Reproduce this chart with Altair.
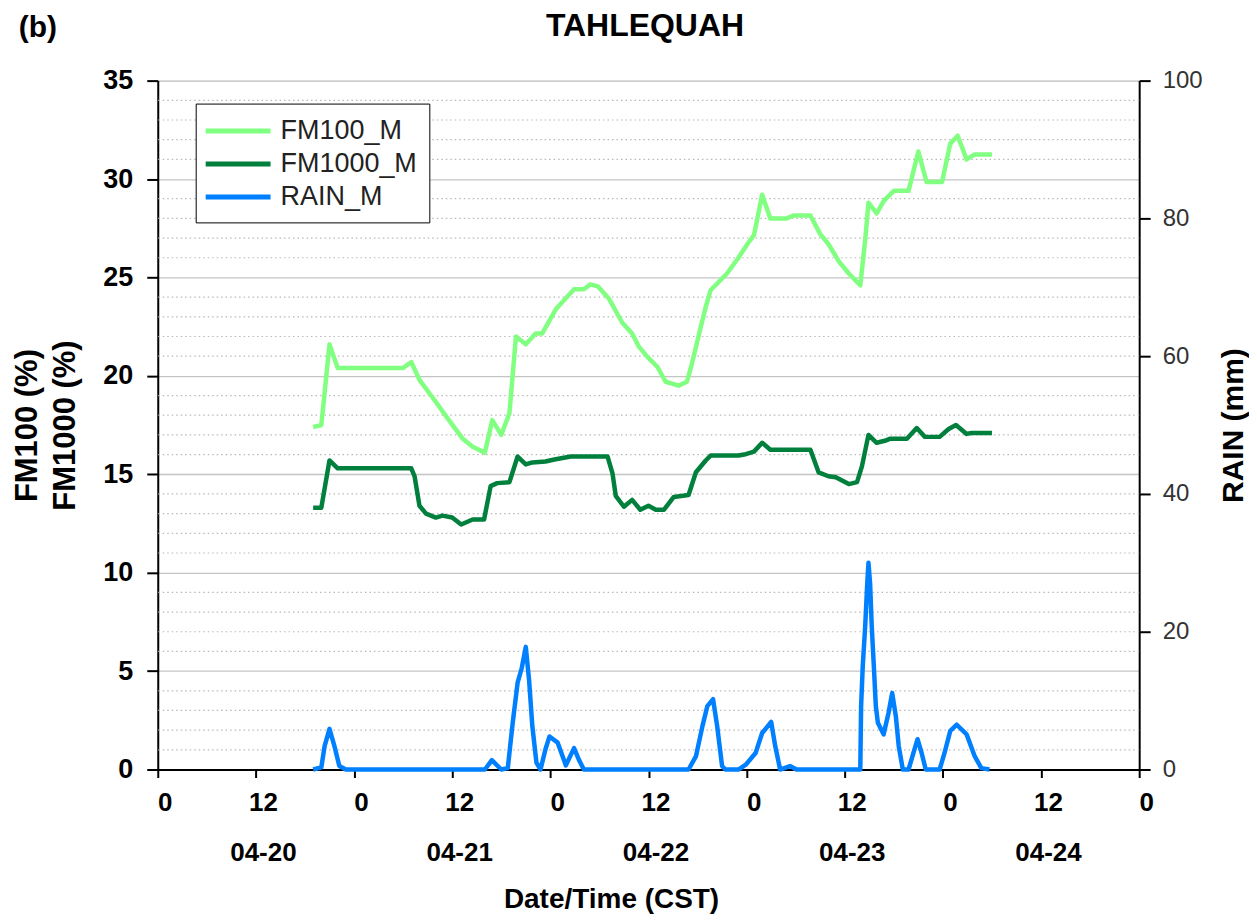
import altair as alt
import pandas as pd

# ---- data (hours since 04-20 00:00 CST) ----
fm100_hours = [19, 20, 21, 22, 30, 31, 32, 33.6, 35.6, 37.3, 38.5, 40, 40.9, 42, 43, 43.8,
               45, 46.2, 47, 48.7, 50.9, 52.1, 52.9, 53.8, 55.2, 56.8, 58, 58.8, 59.9, 61.1,
               62.1, 63.7, 64.7, 65.3, 66.2, 67, 67.6, 69.6, 71, 72.1, 72.9, 73.9, 74.9, 76.9,
               77.8, 79.8, 81, 82, 83.3, 84.5, 85.9, 86.5, 86.9, 87.9, 88.8, 90, 91.8, 93,
               94, 95.9, 96.9, 97.8, 98.9, 99.9, 102]
fm100_vals = [17.4, 17.5, 21.6, 20.4, 20.4, 20.7, 19.8, 18.9, 17.75, 16.8, 16.4, 16.1, 17.75, 17.0, 18.1, 22.0,
              21.6, 22.15, 22.15, 23.4, 24.4, 24.4, 24.65, 24.55, 23.9, 22.7, 22.15, 21.5, 20.95, 20.45,
              19.7, 19.5, 19.7, 20.6, 22.15, 23.5, 24.35, 25.2, 26.0, 26.7, 27.15, 29.2, 28.0, 28.0,
              28.15, 28.15, 27.2, 26.7, 25.8, 25.2, 24.6, 26.9, 28.8, 28.25, 28.9, 29.4, 29.4, 31.4,
              29.85, 29.85, 31.8, 32.2, 31.0, 31.25, 31.25]

fm1000_hours = [19, 20, 21, 22, 31, 31.4, 32, 32.8, 34, 34.8, 36, 37.1, 38.5, 39.9, 40.7, 41.5,
                43, 44, 45, 45.8, 47.4, 48.5, 50.5, 55, 55.6, 56, 57, 58, 59, 60, 60.9, 61.9,
                63.1, 64.9, 65.8, 67, 67.6, 71, 71.7, 72.9, 73.9, 74.9, 79.8, 80.8, 82, 82.9,
                84.5, 85.5, 86.1, 86.9, 87.9, 88.9, 89.5, 91.6, 92.8, 93.8, 95.6, 96.7, 97.6,
                98.9, 99.5, 102]
fm1000_vals = [13.3, 13.3, 15.7, 15.3, 15.3, 14.9, 13.4, 13.0, 12.8, 12.9, 12.8, 12.45, 12.7, 12.7, 14.4, 14.55,
               14.6, 15.9, 15.5, 15.6, 15.65, 15.75, 15.9, 15.9, 15.05, 13.9, 13.35, 13.7, 13.2, 13.4, 13.2, 13.2,
               13.85, 13.95, 15.1, 15.7, 15.95, 15.95, 16.0, 16.15, 16.6, 16.25, 16.25, 15.1, 14.9, 14.85,
               14.5, 14.6, 15.4, 17.0, 16.6, 16.7, 16.8, 16.8, 17.35, 16.9, 16.9, 17.3, 17.5,
               17.05, 17.1, 17.1]

rain_hours = [19, 20, 20.4, 21, 21.6, 22.2, 23, 40, 40.85, 42, 42.8, 43.4, 44, 44.5, 45, 45.4,
              45.8, 46.3, 46.8, 47.4, 47.9, 48.9, 49.9, 50.9, 51.5, 52.1, 64.9, 65.8, 66.6, 67.2,
              67.9, 68.4, 69, 69.4, 71, 71.9, 73.1, 73.9, 75, 75.5, 76.1, 77.3, 78.1, 85.9,
              86, 86.2, 86.5, 86.75, 86.9, 87.1, 87.3, 87.6, 87.8, 88.05, 88.75, 89.35, 89.8,
              90.25, 90.6, 91.1, 91.8, 92.4, 92.9, 93.4, 93.9, 95.6, 96.2, 96.9, 97.7, 98.9,
              99.9, 100.7, 101.7]
rain_vals = [0, 0.3, 3.4, 5.9, 3.4, 0.5, 0, 0, 1.35, 0, 0.2, 6.8, 12.6, 14.7, 17.8, 13.0,
             6.3, 1.0, 0, 2.9, 4.8, 3.9, 0.6, 3.1, 1.4, 0, 0, 1.9, 6.3, 9.2,
             10.2, 6.3, 0.5, 0, 0, 0.7, 2.4, 5.3, 6.9, 3.4, 0, 0.5, 0, 0,
             9.2, 15.0, 20.8, 27.0, 30.0, 27.0, 20.8, 14.0, 9.2, 6.8, 5.1, 8.2, 11.1,
             7.7, 3.4, 0, 0, 2.4, 4.4, 2.4, 0, 0, 2.4, 5.6, 6.5, 5.1,
             1.9, 0.2, 0]

series_names = ["FM100_M", "FM1000_M", "RAIN_M"]
series_colors = ["#80FF80", "#00803C", "#0080FF"]

x_ticks = list(range(0, 121, 12))
left_ticks = list(range(0, 36, 5))
minor_ticks = [v for v in range(1, 35) if v % 5 != 0]
right_ticks = list(range(0, 101, 20))

chart_title = "TAHLEQUAH"
panel_label = "(b)"

FONT = "Liberation Sans"

fm_df = pd.concat([
    pd.DataFrame({"hour": fm100_hours, "value": fm100_vals, "series": "FM100_M"}),
    pd.DataFrame({"hour": fm1000_hours, "value": fm1000_vals, "series": "FM1000_M"}),
])
rain_df = pd.DataFrame({"hour": rain_hours, "mm": rain_vals, "series": "RAIN_M"})
minor_df = pd.DataFrame({"value": minor_ticks})

color = alt.Color(
    "series:N",
    scale=alt.Scale(domain=series_names, range=series_colors),
    legend=alt.Legend(
        title=None, orient="none", legendX=38, legendY=23,
        strokeColor="black", fillColor="white", padding=12,
        symbolType="M-2.5,0H2.5", symbolSize=676, symbolStrokeWidth=5,
        symbolOffset=15, labelOffset=27,
        labelFont=FONT, labelFontSize=27, labelColor="#222222", rowPadding=4,
    ),
)

x_enc = alt.X(
    "hour:Q",
    scale=alt.Scale(domain=[0, 120], nice=False, zero=False),
    axis=alt.Axis(
        values=x_ticks,
        labelExpr="datum.value % 24 == 0 ? '0' : ['12', '04-' + (20 + floor(datum.value / 24))]",
        grid=False, domainColor="black", domainWidth=2, tickColor="black", tickWidth=2, tickSize=8,
        labelFont=FONT, labelFontSize=26, labelFontWeight="bold", labelColor="black",
        labelPadding=12, labelLineHeight=50, labelOffset=7, labelOverlap=False, labelFlush=False,
        title="Date/Time (CST)", titleFont=FONT, titleFontSize=28, titleFontWeight="bold",
        titleColor="black", titleX=454, titleY=130, titleBaseline="middle", titleAlign="center",
    ),
)

left_scale = alt.Scale(domain=[0, 35], nice=False, zero=True)
left_axis = alt.Axis(
    values=left_ticks, grid=True, gridColor="#c4c4c4", gridWidth=1.3,
    domainColor="black", domainWidth=2, tickColor="black", tickWidth=2, tickSize=11,
    labelFont=FONT, labelFontSize=27, labelFontWeight="bold", labelColor="black", labelPadding=14,
    title=["FM100 (%)", "FM1000 (%)"], titleFont=FONT, titleFontSize=31, titleFontWeight="bold",
    titleColor="black", titleAngle=270, titleX=-130, titleY=345, titleAlign="center",
    titleBaseline="middle", titleLineHeight=38,
)

minor = alt.Chart(minor_df).mark_rule(color="#b8b8b8", strokeDash=[1.5, 3], strokeWidth=1.2).encode(
    y=alt.Y("value:Q", scale=left_scale, axis=left_axis)
)

fm_lines = alt.Chart(fm_df).mark_line(strokeWidth=4.5, strokeJoin="round").encode(
    x=x_enc,
    y=alt.Y("value:Q", scale=left_scale, axis=left_axis),
    color=color,
    order="hour:Q",
)

rain_line = alt.Chart(rain_df).mark_line(strokeWidth=4.5, strokeJoin="round").encode(
    x=x_enc,
    y=alt.Y(
        "mm:Q",
        scale=alt.Scale(domain=[0, 100], nice=False),
        axis=alt.Axis(
            orient="right", values=right_ticks, grid=False,
            domainColor="black", domainWidth=2, tickColor="black", tickWidth=2, tickSize=11,
            labelFont=FONT, labelFontSize=24, labelFontWeight="normal", labelColor="#333333",
            labelPadding=12,
            title="RAIN (mm)", titleFont=FONT, titleFontSize=30, titleFontWeight="bold",
            titleColor="black", titleAngle=270, titleX=94, titleY=345, titleAlign="center",
            titleBaseline="middle",
        ),
    ),
    color=color,
    order="hour:Q",
)

b_label = alt.Chart(pd.DataFrame({"t": [panel_label]})).mark_text(
    font=FONT, fontSize=30, fontWeight="bold", color="black", align="center", baseline="middle"
).encode(text="t:N", x=alt.value(-120), y=alt.value(-53))

title_text = alt.Chart(pd.DataFrame({"t": [chart_title]})).mark_text(
    font=FONT, fontSize=32, fontWeight="bold", color="black", align="center", baseline="middle"
).encode(text="t:N", x=alt.value(488), y=alt.value(-55))

chart = alt.layer(
    alt.layer(minor, fm_lines),
    rain_line,
    b_label,
    title_text,
).resolve_scale(y="independent").properties(
    width=983,
    height=690,
    autosize=alt.AutoSizeParams(type="none"),
    padding={"left": 150, "top": 72, "right": 110, "bottom": 150},
).configure_view(stroke=None).configure(background="white")

chart.save("out.html", embed_options={"renderer": "svg", "actions": False})
